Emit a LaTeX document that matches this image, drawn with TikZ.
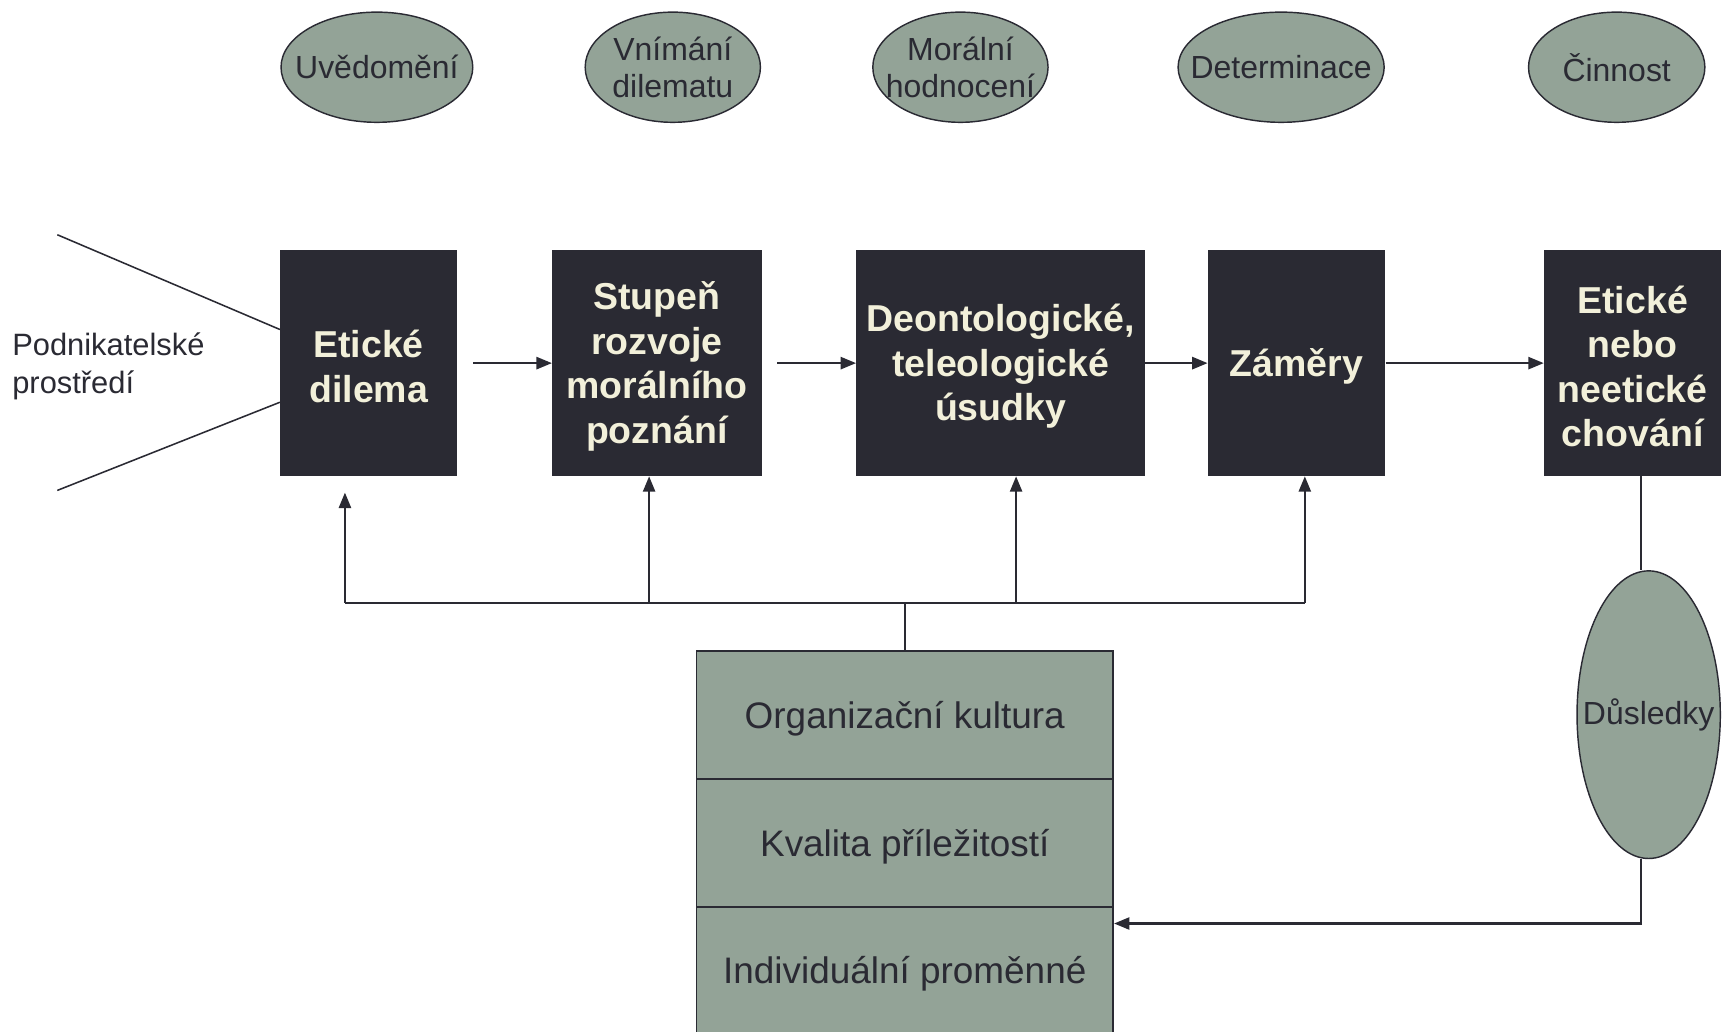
\documentclass[tikz,border=0pt]{standalone}
\usepackage{fontspec}
\setmainfont{Liberation Sans}
\usetikzlibrary{arrows.meta,shapes.geometric,calc}
\definecolor{dark}{HTML}{2A2A33}
\definecolor{sage}{HTML}{93A397}
\definecolor{cream}{HTML}{F2F0DA}
\begin{document}
\begin{tikzpicture}[x=1pt,y=-1pt,
  darkbox/.style={rectangle,fill=dark,draw=none,inner sep=0pt,minimum height=205pt},
  boxtext/.style={text=cream,font=\fontsize{34}{40.5}\selectfont\bfseries,align=center,inner sep=0pt,yshift=-3pt},
  oval/.style={ellipse,fill=sage,draw=dark,line width=1.3pt,inner sep=0pt,minimum height=100pt},
  ovaltext/.style={text=dark,font=\fontsize{29}{34}\selectfont,align=center,inner sep=0pt},
  rowbox/.style={rectangle,fill=sage,draw=dark,line width=1.8pt,inner sep=0pt,minimum width=378pt,minimum height=116pt},
  rowtext/.style={text=dark,font=\fontsize{33.5}{40}\selectfont,inner sep=0pt,yshift=-3pt},
  conn/.style={draw=dark,line width=2pt},
  arr/.style={conn,-{Triangle[length=14pt,width=11pt]}}]
\clip (0,0) rectangle (1568,936);
\fill[white] (0,0) rectangle (1568,936);
% top ellipses
\node[oval,minimum width=174pt,label={[ovaltext]center:Uvědomění}] (e1) at (342,61) {};
\node[oval,minimum width=159pt,label={[ovaltext]center:Vnímání\\dilematu}] (e2) at (610.5,61) {};
\node[oval,minimum width=159pt,label={[ovaltext]center:Morální\\hodnocení}] (e3) at (871.5,61) {};
\node[oval,minimum width=187pt,label={[ovaltext]center:Determinace}] (e4) at (1162.5,61) {};
\node[oval,minimum width=160pt,label={[ovaltext]center:Činnost}] (e5) at (1467,61) {};
% main boxes
\node[darkbox,minimum width=161pt,label={[boxtext]center:Etické\\dilema}] (b1) at (334.5,329.5) {};
\node[darkbox,minimum width=190pt,label={[boxtext]center:Stupeň\\rozvoje\\morálního\\poznání}] (b2) at (596,329.5) {};
\node[darkbox,minimum width=262pt,label={[boxtext]center:Deontologické,\\teleologické\\úsudky}] (b3) at (908,329.5) {};
\node[darkbox,minimum width=161pt,label={[boxtext]center:Záměry}] (b4) at (1176.5,329.5) {};
\node[darkbox,minimum width=161pt,label={[boxtext]center:Etické\\nebo\\neetické\\chování}] (b5) at (1481.5,329.5) {};
% environment label
\node[anchor=west,align=left,font=\fontsize{28}{35}\selectfont,text=dark,inner sep=0pt] (env) at (11,332.5) {Podnikatelské\\prostředí};
\coordinate (p1) at (52,213);
\coordinate (p2) at (254,299);
\coordinate (p3) at (52,445);
\coordinate (p4) at (254,365);
\draw[draw=dark,line width=1.4pt] (p1) -- (p2);
\draw[draw=dark,line width=1.4pt] (p3) -- (p4);
% horizontal arrows
\draw[arr] ($(b1.east)+(14,0)$) -- (b2.west);
\draw[arr] ($(b2.east)+(14,0)$) -- (b3.west);
\draw[arr] (b3.east) -- (b4.west);
\draw[arr] (b4.east) -- (b5.west);
% bottom stack
\node[rowbox,label={[rowtext]center:Organizační kultura}] (r1) at (821,649) {};
\node[rowbox,label={[rowtext]center:Kvalita příležitostí}] (r2) at (821,765) {};
\node[rowbox,label={[rowtext]center:Individuální proměnné}] (r3) at (821,881) {};
% feedback bus
\coordinate (f1) at (313,547);
\coordinate (f2) at (589,547);
\coordinate (f3) at (922,547);
\coordinate (f4) at (1184,547);
\coordinate (t1) at (313,447);
\draw[conn] (f1) -- (f4);
\draw[arr] (f1) -- (t1);
\draw[arr] (f2) -- (f2 |- b2.south);
\draw[arr] (f3) -- (f3 |- b3.south);
\draw[arr] (f4) -- (f4 |- b4.south);
\draw[conn,line width=1.6pt] (r1.north) -- (r1.north |- f1);
% consequences
\node[oval,minimum width=130pt,minimum height=261pt,label={[ovaltext]center:Důsledky}] (d) at (1496,648.5) {};
\coordinate (dx) at (1489,838);
\draw[conn,line width=1.6pt] (b5.south -| dx) -- (dx |- d.north);
\draw[arr] (dx |- d.south) -- (dx) -- (dx -| r3.east);
\end{tikzpicture}
\end{document}
